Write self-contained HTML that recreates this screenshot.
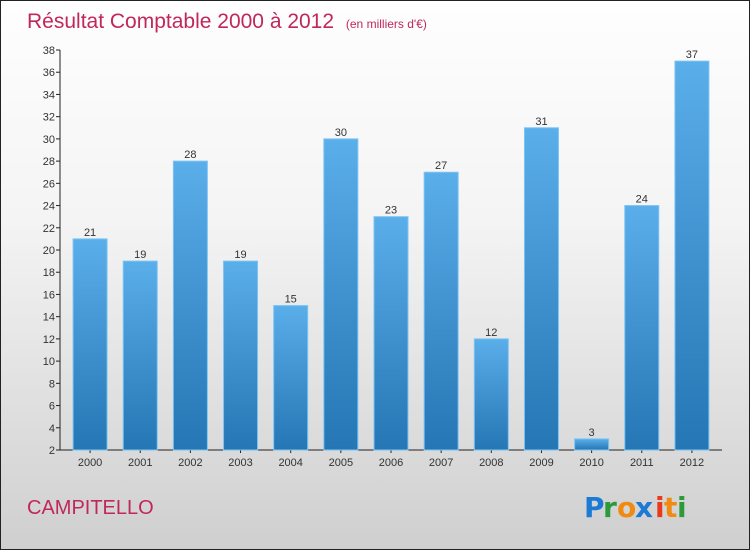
<!DOCTYPE html>
<html><head><meta charset="utf-8"><style>
body{margin:0}
#c{width:748px;height:548px;border:1px solid #222;background:linear-gradient(#fefefe,#f4f4f4 40%,#cfcfcf);position:relative;font-family:"Liberation Sans",sans-serif;overflow:hidden}
</style></head><body>
<div id="c">
<svg id="s" width="748" height="548" xmlns="http://www.w3.org/2000/svg">
<defs><linearGradient id="g" x1="0" y1="0" x2="0" y2="1"><stop offset="0" stop-color="#5aaeea"/><stop offset="1" stop-color="#2576b4"/></linearGradient></defs>
<text x="26" y="27" font-size="21" fill="#c0285a">Résultat Comptable 2000 à 2012 <tspan font-size="12" dx="6">(en milliers d'€)</tspan></text>
<text x="26" y="513" font-size="20" fill="#c0285a">CAMPITELLO</text>
<g font-size="28" font-weight="bold" font-family="'DejaVu Sans',sans-serif">
<text x="583" y="516" fill="#1a7ad4">P</text><text x="602" y="516" fill="#2a9a3a">r</text><text x="616" y="516" fill="#f08a10">o</text><text x="634" y="516" fill="#1a7ad4">x</text><text x="654" y="516" fill="#e83a1a">i</text><text x="663" y="516" fill="#f08a10">t</text><text x="676" y="516" fill="#2a9a3a">i</text>
</g>
<g id="ax"></g><g id="bars"></g>
</svg></div>
<script>
const years=["2000","2001","2002","2003","2004","2005","2006","2007","2008","2009","2010","2011","2012"];
const values=[21,19,28,19,15,30,23,27,12,31,3,24,37];
const yTicks=[2,4,6,8,10,12,14,16,18,20,22,24,26,28,30,32,34,36,38];
const NS="http://www.w3.org/2000/svg";
const yMin=2,yMax=38,plotTop=49,plotBot=449,plotLeft=59,plotRight=721;
const yS=v=>plotBot-(v-yMin)/(yMax-yMin)*(plotBot-plotTop);
const step=(plotRight-plotLeft-10)/years.length;
const xc=i=>plotLeft+5+step*(i+0.5);
function mk(t,a,p){const e=document.createElementNS(NS,t);for(const k in a)e.setAttribute(k,a[k]);p.appendChild(e);return e;}
const ax=document.getElementById('ax'),bg=document.getElementById('bars');
yTicks.forEach(v=>{
 const t=mk('line',{x1:plotLeft-4,x2:plotLeft,y1:yS(v),y2:yS(v),stroke:'#222'},ax);
 
 
 const l=mk('text',{x:plotLeft-5,y:yS(v)+4,'text-anchor':'end','font-size':11,fill:'#333'},ax);l.textContent=v;
 
 
});
values.forEach((v,i)=>{
 const w=34,x=xc(i)-w/2;
 const r=mk('rect',{x:x,y:yS(v),width:w,height:plotBot-yS(v),fill:'url(#g)',stroke:'#7cc4f4','stroke-width':1},bg);
 
 
 const t=mk('text',{x:xc(i),y:yS(v)-3,'text-anchor':'middle','font-size':11,fill:'#333'},bg);t.textContent=v;
 
 
 const xl=mk('text',{x:xc(i),y:plotBot+16,'text-anchor':'middle','font-size':11,fill:'#333'},ax);xl.textContent=years[i];
 
 
 const xt=mk('line',{x1:xc(i),x2:xc(i),y1:plotBot,y2:plotBot+3,stroke:'#222'},ax);
 
 
});
const ya=mk('line',{x1:plotLeft,x2:plotLeft,y1:plotTop,y2:plotBot,stroke:'#222'},ax);


const xa=mk('line',{x1:plotLeft,x2:plotRight,y1:plotBot,y2:plotBot,stroke:'#222'},ax);


</script>
</body></html>
